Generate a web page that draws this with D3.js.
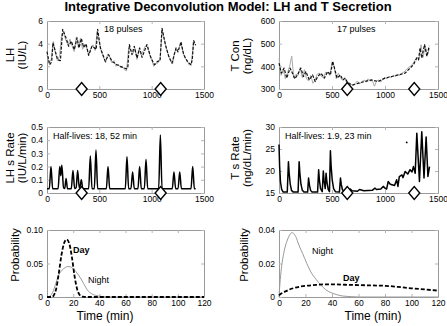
<!DOCTYPE html>
<html>
<head>
<meta charset="utf-8">
<script src="https://cdn.jsdelivr.net/npm/d3@7"></script>
<style>
body { margin: 0; background: #fff; }
text { font-family: "Liberation Sans", Arial, Helvetica, sans-serif; }
</style>
</head>
<body>
<svg id="chart" width="447" height="326"></svg>
<script>
// ---- data ----
// LH concentration: fitted (black dashed) and observed (grey)
var lhFitT = [0, 25, 45, 57, 102, 128, 150, 182, 207, 232, 261, 287, 306, 328, 350, 373, 398, 430, 455, 470, 484, 510, 557, 589, 621, 669, 717, 758, 772, 787, 812, 834, 860, 885, 908, 955, 994, 1026, 1057, 1080, 1099, 1131, 1163, 1194, 1233, 1252, 1280, 1306, 1344, 1376, 1388, 1401, 1420];
var lhFitV = [3.3, 2.14, 2.4, 4.07, 2.58, 2.5, 5.26, 4.51, 3.77, 4.22, 3.47, 4.51, 3.62, 4.46, 3.68, 3.98, 2.97, 3.77, 3.62, 3.5, 5.26, 3.62, 2.44, 3.03, 2.44, 2.14, 1.93, 1.78, 1.9, 3.92, 3.03, 3.77, 2.73, 3.62, 2.79, 3.92, 2.73, 2.14, 2.44, 2.5, 5.35, 3.92, 2.88, 2.29, 3.62, 3.27, 4.16, 3.03, 2.38, 2.14, 2.6, 4.28, 3.86];
var lhObsT = [0, 20, 40, 60, 80, 100, 120, 140, 160, 180, 200, 220, 240, 260, 280, 300, 320, 340, 360, 380, 400, 420, 440, 460, 480, 500, 520, 540, 560, 580, 600, 620, 640, 660, 680, 700, 720, 740, 760, 780, 800, 820, 840, 860, 880, 900, 920, 940, 960, 980, 1000, 1020, 1040, 1060, 1080, 1100, 1120, 1140, 1160, 1180, 1200, 1220, 1240, 1260, 1280, 1300, 1320, 1340, 1360, 1380, 1400, 1420];
var lhObsV = [3.0, 2.3, 2.6, 4.2, 3.2, 2.5, 2.9, 4.8, 4.9, 4.3, 3.9, 4.4, 3.8, 3.3, 4.6, 3.7, 4.5, 3.5, 3.9, 3.6, 3.0, 3.6, 3.9, 3.4, 5.1, 4.1, 3.3, 2.8, 2.3, 3.1, 2.8, 2.3, 2.5, 2.0, 2.2, 1.9, 2.0, 1.7, 1.6, 3.6, 3.4, 3.1, 3.6, 2.6, 3.5, 3.0, 3.4, 3.8, 3.7, 3.0, 2.6, 2.0, 2.2, 2.3, 2.6, 5.2, 4.4, 3.6, 3.0, 2.5, 2.2, 3.3, 3.4, 3.6, 4.0, 3.2, 2.7, 2.5, 2.1, 2.3, 4.1, 3.9];

// T concentration
var tFitT = [0, 22, 48, 73, 105, 127, 149, 174, 206, 231, 254, 285, 317, 342, 365, 396, 428, 460, 485, 507, 523, 548, 580, 602, 625, 650, 697, 745, 808, 872, 935, 999, 1062, 1125, 1189, 1236, 1268, 1300, 1316, 1331, 1347, 1373, 1395, 1417];
var tFitV = [414, 370, 392, 348, 392, 370, 345, 362, 392, 355, 377, 340, 362, 333, 355, 370, 348, 377, 362, 422, 392, 348, 362, 340, 348, 325, 318, 325, 333, 340, 333, 348, 355, 362, 370, 392, 407, 437, 429, 481, 437, 496, 444, 490];
var tObsT = [0, 20, 40, 60, 80, 100, 120, 140, 160, 180, 200, 220, 240, 260, 280, 300, 320, 340, 360, 380, 400, 420, 440, 460, 480, 500, 520, 540, 560, 580, 600, 620, 640, 660, 680, 700, 720, 740, 760, 780, 800, 820, 840, 860, 880, 900, 920, 940, 960, 980, 1000, 1020, 1040, 1060, 1080, 1100, 1120, 1140, 1160, 1180, 1200, 1220, 1240, 1260, 1280, 1300, 1320, 1340, 1360, 1380, 1400, 1420];
var tObsV = [435, 360, 385, 345, 370, 400, 445, 350, 365, 360, 395, 350, 385, 345, 335, 360, 325, 340, 365, 370, 355, 350, 375, 370, 360, 420, 400, 345, 370, 350, 338, 350, 325, 330, 320, 315, 325, 335, 322, 330, 340, 330, 345, 335, 338, 312, 335, 340, 330, 345, 350, 345, 355, 350, 360, 355, 365, 360, 370, 375, 385, 395, 400, 410, 425, 440, 430, 495, 440, 490, 450, 480];

// LH secretion rate
var lhRateT = [0, 22, 38, 54, 106, 122, 132, 142, 158, 170, 182, 196, 232, 248, 264, 278, 293, 308, 316, 328, 342, 398, 414, 430, 452, 468, 484, 567, 583, 599, 748, 764, 780, 802, 818, 834, 869, 885, 901, 930, 946, 962, 1067, 1083, 1099, 1197, 1213, 1229, 1252, 1268, 1284, 1376, 1392, 1408, 1420];
var lhRateV = [0.033, 0.033, 0.20, 0.033, 0.033, 0.20, 0.13, 0.21, 0.04, 0.035, 0.11, 0.033, 0.033, 0.17, 0.035, 0.04, 0.17, 0.04, 0.05, 0.10, 0.033, 0.033, 0.28, 0.033, 0.033, 0.325, 0.033, 0.033, 0.20, 0.033, 0.033, 0.275, 0.033, 0.033, 0.16, 0.033, 0.033, 0.20, 0.033, 0.033, 0.255, 0.033, 0.033, 0.44, 0.033, 0.033, 0.16, 0.033, 0.033, 0.16, 0.033, 0.033, 0.20, 0.033, 0.033];

// T secretion rate
var tRateT = [0, 6, 14, 25, 40, 78, 89, 96, 106, 118, 135, 180, 190, 197, 207, 220, 235, 270, 279, 287, 298, 312, 364, 374, 381, 392, 408, 418, 425, 436, 444, 452, 464, 476, 485, 492, 502, 515, 532, 570, 580, 587, 598, 615, 660, 672, 690, 740, 760, 800, 880, 905, 920, 960, 983, 1000, 1015, 1030, 1050, 1090, 1110, 1122, 1135, 1160, 1170, 1190, 1215, 1236, 1255, 1268, 1285, 1300, 1325, 1347, 1368, 1388, 1405, 1420];
var tRateV = [26, 21, 17.5, 15.8, 15.2, 15.2, 22.1, 19.5, 17, 15.6, 15.2, 15.2, 22.1, 19.5, 17, 15.6, 15.2, 15.2, 18.4, 16.8, 15.6, 15.2, 15.2, 20.3, 18, 16, 15.3, 20, 17.8, 16, 19.5, 17.5, 15.8, 15.3, 24.6, 21, 18, 16, 15.3, 15.2, 18.4, 17, 15.8, 15.2, 15.1, 15.9, 15.5, 15.4, 15.8, 15.5, 15.6, 16.1, 15.8, 15.9, 16.5, 16.1, 15.9, 17.6, 17, 16.7, 18, 16.5, 18.7, 19.1, 18.5, 19.9, 19.3, 20.3, 19.8, 21, 19.5, 28.6, 17.6, 28.9, 18.4, 27.75, 18.75, 21];
var tRateDot = [[1205, 26.5]];

// pulse-mass probability (Day / Night)
var lhDayT = [0, 4, 5, 7, 9, 11, 13, 15, 17, 19, 21, 23, 25, 27, 30, 120];
var lhDayV = [0, 0, 0.002, 0.012, 0.035, 0.062, 0.080, 0.086, 0.080, 0.060, 0.032, 0.012, 0.003, 0.0005, 0, 0];
var lhNightT = [0, 2, 5, 7, 9, 11.5, 14, 16, 18, 20, 22, 24, 26, 28, 31, 34, 37, 42, 50, 120];
var lhNightV = [0, 0.001, 0.01, 0.022, 0.033, 0.040, 0.044, 0.0455, 0.045, 0.042, 0.038, 0.033, 0.027, 0.020, 0.010, 0.005, 0.0025, 0.0008, 0, 0];
var tDayT = [0, 2, 4, 8, 12, 16, 22, 28, 34, 42, 50, 60, 70, 80, 90, 100, 110, 120];
var tDayV = [0.001, 0.0022, 0.003, 0.0045, 0.0055, 0.0062, 0.0068, 0.0072, 0.0075, 0.0075, 0.0073, 0.0071, 0.0069, 0.0067, 0.006, 0.0052, 0.0045, 0.0038];
var tNightT = [0, 0.7, 1.8, 3.8, 6.3, 8, 9.6, 11, 12.7, 15, 17.8, 21, 24, 28, 31.7, 35, 39.3, 44, 48, 55, 60, 120];
var tNightV = [0, 0.008, 0.017, 0.027, 0.034, 0.037, 0.0384, 0.038, 0.036, 0.031, 0.026, 0.020, 0.015, 0.0105, 0.007, 0.0045, 0.0026, 0.0013, 0.0006, 0.0002, 0, 0];

// diamond markers (times)
var lhMarks = [331, 1086];
var tMarks = [644, 1276];

var timeTicks = [0, 500, 1000, 1500];
var probTicks = [0, 20, 40, 60, 80, 100, 120];

// ---- layout ----
var cols = [[47, 204], [279, 438]];
var rows = [[21, 89], [127, 193], [230, 297]];
var svg = d3.select("#chart");

svg.append("text").attr("x", 228).attr("y", 11).attr("text-anchor", "middle")
    .attr("font-size", "13px").attr("font-weight", "bold").text("Integrative Deconvolution Model: LH and T Secretion");

function panel(c, r, xDom, yDom, xTicks, yTicks, yFmt) {
    var x = d3.scaleLinear().domain(xDom).range(cols[c]);
    var y = d3.scaleLinear().domain(yDom).range([rows[r][1], rows[r][0]]);
    var g = svg.append("g");
    var y0 = rows[r][1], y1 = rows[r][0], x0 = cols[c][0], x1 = cols[c][1];
    g.append("g").attr("transform", "translate(0," + y0 + ")")
        .call(d3.axisBottom(x).tickValues(xTicks).tickSizeInner(-3).tickSizeOuter(0).tickPadding(3).tickFormat(d3.format("d")));
    g.append("g").attr("transform", "translate(0," + y1 + ")")
        .call(d3.axisTop(x).tickValues(xTicks).tickSizeInner(-3).tickSizeOuter(0).tickFormat(""));
    g.append("g").attr("transform", "translate(" + x0 + ",0)")
        .call(d3.axisLeft(y).tickValues(yTicks).tickSizeInner(-3).tickSizeOuter(0).tickPadding(4).tickFormat(yFmt));
    g.append("g").attr("transform", "translate(" + x1 + ",0)")
        .call(d3.axisRight(y).tickValues(yTicks).tickSizeInner(-3).tickSizeOuter(0).tickFormat(""));
    g.selectAll(".domain").attr("stroke", "#9a9a9a");
    g.selectAll(".tick line").attr("stroke", "#b5b5b5");
    g.selectAll(".tick text").attr("fill", "#000").attr("font-size", "8.5px")
        .attr("font-family", "'Liberation Sans', Arial, sans-serif");
    return {g: g, x: x, y: y};
}

function series(p, ts, vs, stroke, width, dash, curve) {
    var line = d3.line().x(function (d) { return p.x(d[0]); }).y(function (d) { return p.y(d[1]); });
    if (curve) line.curve(curve);
    p.g.append("path").datum(d3.zip(ts, vs))
        .attr("fill", "none").attr("stroke", stroke).attr("stroke-width", width)
        .attr("stroke-dasharray", dash).attr("stroke-linejoin", "round").attr("d", line);
}

function diamonds(p, ts) {
    var yb = p.y(p.y.domain()[0]);
    p.g.selectAll(null).data(ts).enter().append("path")
        .attr("d", function (t) {
            var cx = p.x(t);
            return "M" + (cx - 5.5) + "," + yb + "L" + cx + "," + (yb - 6.5) + "L" + (cx + 5.5) + "," + yb + "L" + cx + "," + (yb + 6.5) + "Z";
        })
        .attr("fill", "#fff").attr("stroke", "#000").attr("stroke-width", 1.4);
}

function note(x, y, s, bold) {
    svg.append("text").attr("x", x).attr("y", y).attr("font-size", "9px")
        .attr("font-weight", bold ? "bold" : "normal").text(s);
}

function yLabel(lines, xs, cy) {
    lines.forEach(function (s, i) {
        svg.append("text").attr("transform", "translate(" + xs[i] + "," + cy + ") rotate(-90)")
            .attr("text-anchor", "middle").attr("font-size", "11.5px").text(s);
    });
}

function xLabel(s, cx, y) {
    svg.append("text").attr("x", cx).attr("y", y).attr("text-anchor", "middle")
        .attr("font-size", "12px").text(s);
}

var fmt1 = function (d) { return d === 0 ? "0" : d3.format(".1f")(d); };
var fmt2 = function (d) { return d === 0 ? "0" : d3.format(".2f")(d); };

// top left: LH concentration
var p1 = panel(0, 0, [0, 1500], [0, 6], timeTicks, [0, 2, 4, 6], d3.format("d"));
series(p1, lhObsT, lhObsV, "#aaa", 1, null);
series(p1, lhFitT, lhFitV, "#111", 1.2, "3,1.5");
diamonds(p1, lhMarks);
note(104, 32, "18 pulses");
yLabel(["LH", "(IU/L)"], [14, 26], 55);

// top right: T concentration
var p2 = panel(1, 0, [0, 1500], [300, 600], timeTicks, [300, 400, 500, 600], d3.format("d"));
series(p2, tObsT, tObsV, "#aaa", 1, null);
series(p2, tFitT, tFitV, "#111", 1.2, "3,1.5");
diamonds(p2, tMarks);
note(337, 32, "17 pulses");
yLabel(["T Con", "(ng/dL)"], [238.5, 251], 56);

// middle left: LH secretion rate
var p3 = panel(0, 1, [0, 1500], [0, 0.5], timeTicks, [0, 0.1, 0.2, 0.3, 0.4, 0.5], fmt1);
series(p3, lhRateT, lhRateV, "#000", 1.5, null, d3.curveMonotoneX);
diamonds(p3, lhMarks);
note(53, 139, "Half-lives: 18, 52 min");
yLabel(["LH s Rate", "(IU/L/min)"], [13.5, 26], 158);

// middle right: T secretion rate
var p4 = panel(1, 1, [0, 1500], [15, 30], timeTicks, [15, 20, 25, 30], d3.format("d"));
series(p4, tRateT, tRateV, "#000", 1.5, null);
p4.g.selectAll(null).data(tRateDot).enter().append("circle")
    .attr("cx", function (d) { return p4.x(d[0]); }).attr("cy", function (d) { return p4.y(d[1]); })
    .attr("r", 0.9).attr("fill", "#000");
diamonds(p4, tMarks);
note(285, 139, "Half-lives: 1.9, 23 min");
yLabel(["T s Rate", "(ng/dL/min)"], [238.5, 251], 158);

// bottom left: LH probability
var p5 = panel(0, 2, [0, 120], [0, 0.1], probTicks, [0, 0.05, 0.1], fmt2);
series(p5, lhNightT, lhNightV, "#999", 1, null, d3.curveMonotoneX);
series(p5, lhDayT, lhDayV, "#000", 1.8, "4,2", d3.curveMonotoneX);
note(73, 253, "Day", true);
note(88, 283, "Night");
yLabel(["Probability"], [18.5], 255);
xLabel("Time (min)", 105, 320);

// bottom right: T probability
var p6 = panel(1, 2, [0, 120], [0, 0.04], probTicks, [0, 0.02, 0.04], fmt2);
series(p6, tNightT, tNightV, "#999", 1, null, d3.curveMonotoneX);
series(p6, tDayT, tDayV, "#000", 1.8, "4,2", d3.curveMonotoneX);
note(312, 254, "Night");
note(343, 281, "Day", true);
yLabel(["Probability"], [248], 255);
xLabel("Time (min)", 373, 320);
</script>
</body>
</html>
